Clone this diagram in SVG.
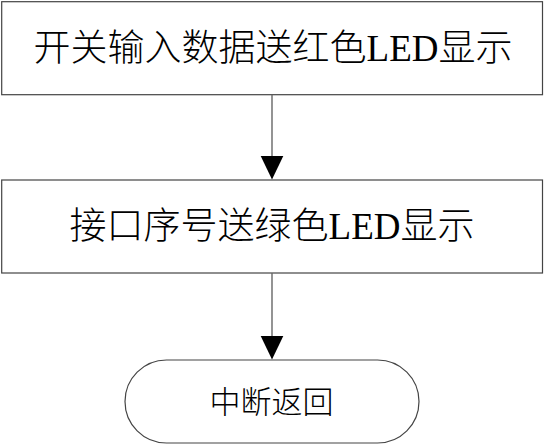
<svg xmlns="http://www.w3.org/2000/svg" width="544" height="445" viewBox="0 0 544 445">
<style>
.box{fill:#fff;stroke:#444;stroke-width:1.2}
.lbl{font-family:"Liberation Serif","Noto Sans CJK SC",serif;fill:#000;text-anchor:middle;font-weight:300}
.conn{stroke:#666;stroke-width:1.4;fill:none}
.head{fill:#000;stroke:none}
</style>
<rect width="544" height="445" fill="#fff"/>
<g id="node-input">
<rect class="box" x="1.7" y="1.7" width="540.8" height="93"/>
<text class="lbl" x="273" y="61" font-size="37">开关输入数据送红色LED显示</text>
</g>
<g id="node-port">
<rect class="box" x="1.7" y="180" width="540.8" height="93"/>
<text class="lbl" x="272" y="239" font-size="37">接口序号送绿色LED显示</text>
</g>
<g id="node-return">
<rect class="box" x="125" y="360" width="294" height="83" rx="41.5" ry="41.5"/>
<text class="lbl" x="271.5" y="413" font-size="31">中断返回</text>
</g>
<g id="connectors">
<line class="conn" x1="272" y1="94.7" x2="272" y2="157"/>
<polygon class="head" points="260.7,156 283.3,156 272,179.5"/>
<line class="conn" x1="272" y1="273" x2="272" y2="337"/>
<polygon class="head" points="260.7,336 283.3,336 272,359.5"/>
</g>
</svg>
